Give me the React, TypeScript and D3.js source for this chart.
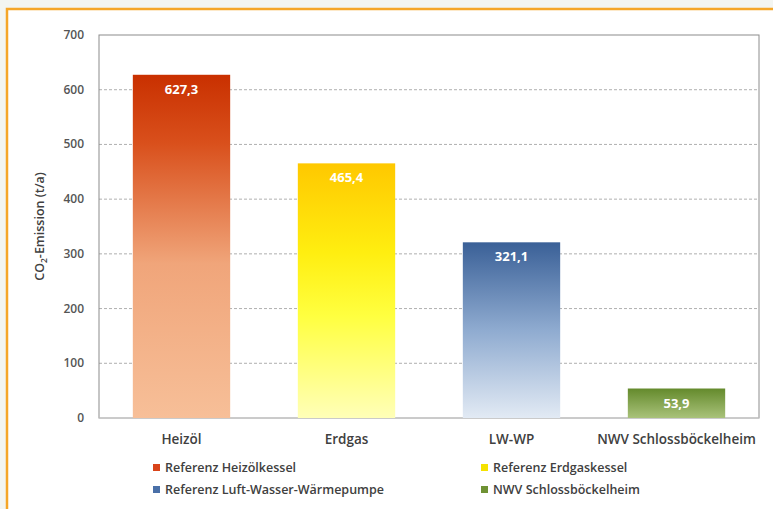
import { useEffect, useRef } from 'react';
import * as d3 from 'd3';

const WIDTH = 773;
const HEIGHT = 509;
const MARGIN = { top: 35, right: 14, bottom: 91, left: 99 };

const categories = ['Heizöl', 'Erdgas', 'LW-WP', 'NWV Schlossböckelheim'];
const values = [627.3, 465.4, 321.1, 53.9];
const seriesNames = ['Referenz Heizölkessel', 'Referenz Erdgaskessel', 'Referenz Luft-Wasser-Wärmepumpe', 'NWV Schlossböckelheim'];
const yTicks = [0, 100, 200, 300, 400, 500, 600, 700];

// gradient stops per bar: [offset, color]
const gradients: [number, string][][] = [
  [[0, '#c93000'], [0.2, '#d9501c'], [0.55, '#f0a57a'], [1, '#f7bf98']],
  [[0, '#ffc800'], [0.35, '#ffee10'], [0.6, '#ffff40'], [1, '#ffffb8']],
  [[0, '#3a6097'], [0.5, '#8fabd0'], [1, '#e2eaf4']],
  [[0, '#648a2c'], [1, '#a9c27a']],
];
const legendColors = ['#d9441a', '#f5e200', '#4a70a8', '#6f9234'];

export default function App() {
  const svgRef = useRef<SVGSVGElement>(null);

  useEffect(() => {
    const svg = d3.select(svgRef.current);
    svg.selectAll('*').remove();

    const font = '"Open Sans", sans-serif';
    const w = WIDTH - MARGIN.left - MARGIN.right;
    const h = 418 - MARGIN.top;

    // page background + orange frame
    svg.append('rect').attr('width', WIDTH).attr('height', HEIGHT).attr('fill', '#f3f5f1');
    svg.append('rect')
      .attr('x', 7).attr('y', 9).attr('width', WIDTH + 10).attr('height', HEIGHT + 10)
      .attr('fill', '#ffffff').attr('stroke', '#f5a628').attr('stroke-width', 2.5);

    const defs = svg.append('defs');
    gradients.forEach((stops, i) => {
      const lg = defs.append('linearGradient').attr('id', `bar-grad-${i}`)
        .attr('x1', 0).attr('y1', 0).attr('x2', 0).attr('y2', 1);
      stops.forEach(([o, c]) => lg.append('stop').attr('offset', o).attr('stop-color', c));
    });

    const g = svg.append('g').attr('transform', `translate(${MARGIN.left},${MARGIN.top})`);

    const x = d3.scaleBand().domain(categories).range([0, w]).paddingInner(0.41).paddingOuter(0.205);
    const y = d3.scaleLinear().domain([0, 700]).range([h, 0]);

    // dashed grid
    g.selectAll('.grid')
      .data(yTicks.filter((t) => t > 0 && t < 700))
      .join('line')
      .attr('x1', 0).attr('x2', w)
      .attr('y1', (d) => y(d)).attr('y2', (d) => y(d))
      .attr('stroke', '#9a9a9a').attr('stroke-width', 0.8).attr('stroke-dasharray', '3,2');

    // frame
    g.append('rect').attr('width', w).attr('height', h)
      .attr('fill', 'none').attr('stroke', '#8c8c8c').attr('stroke-width', 1);
    g.append('line').attr('x1', 0).attr('x2', w).attr('y1', h).attr('y2', h)
      .attr('stroke', '#d0d0d0').attr('stroke-width', 1);

    // bars
    g.selectAll('.bar')
      .data(values)
      .join('rect')
      .attr('x', (_, i) => x(categories[i])!)
      .attr('y', (d) => y(d))
      .attr('width', x.bandwidth())
      .attr('height', (d) => h - y(d))
      .attr('fill', (_, i) => `url(#bar-grad-${i})`);

    // value labels
    g.selectAll('.val')
      .data(values)
      .join('text')
      .attr('x', (_, i) => x(categories[i])! + x.bandwidth() / 2)
      .attr('y', (d) => y(d) + 19)
      .attr('text-anchor', 'middle')
      .attr('fill', '#ffffff')
      .style('font-family', font).style('font-weight', 700).style('font-size', '13px')
      .text((d) => d.toFixed(1).replace('.', ','));

    // y ticks
    g.selectAll('.ytick')
      .data(yTicks)
      .join('text')
      .attr('x', -15)
      .attr('y', (d) => y(d) + 4)
      .attr('text-anchor', 'end')
      .attr('fill', '#555555')
      .style('font-family', font).style('font-weight', 600).style('font-size', '12px')
      .text((d) => d);

    // x labels
    g.selectAll('.xlab')
      .data(categories)
      .join('text')
      .attr('x', (d) => x(d)! + x.bandwidth() / 2)
      .attr('y', h + 26)
      .attr('text-anchor', 'middle')
      .attr('fill', '#404040')
      .style('font-family', font).style('font-weight', 600).style('font-size', '13.5px')
      .text((d) => d);

    // y title
    const yt = svg.append('text')
      .attr('transform', `translate(44,${MARGIN.top + h / 2}) rotate(-90)`)
      .attr('text-anchor', 'middle')
      .attr('fill', '#404040')
      .style('font-family', font).style('font-weight', 600).style('font-size', '12.5px');
    yt.append('tspan').text('CO');
    yt.append('tspan').attr('dy', 3).style('font-size', '8.5px').text('2');
    yt.append('tspan').attr('dy', -3).text('-Emission (t/a)');

    // legend
    const legendPos = [[153, 468], [481, 468], [153, 490], [481, 490]];
    seriesNames.forEach((name, i) => {
      const [lx, ly] = legendPos[i];
      svg.append('rect').attr('x', lx).attr('y', ly - 4).attr('width', 7).attr('height', 7)
        .attr('fill', legendColors[i]);
      svg.append('text').attr('x', lx + 12).attr('y', ly + 4)
        .attr('fill', '#404040')
        .style('font-family', font).style('font-weight', 600).style('font-size', '12.5px')
        .text(name);
    });
  }, []);

  return (
    <svg
      ref={svgRef}
      width={WIDTH}
      height={HEIGHT}
      style={{ position: 'absolute', left: 0, top: 0, display: 'block' }}
    />
  );
}
